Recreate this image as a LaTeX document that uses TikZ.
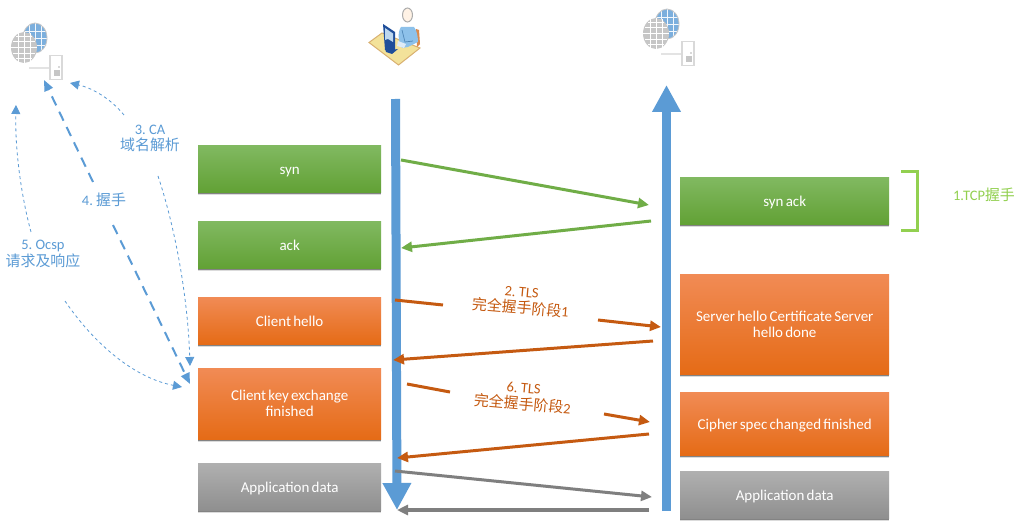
\documentclass[tikz,border=0pt]{standalone}
\usepackage{fontspec}
\setmainfont{Carlito}[WordSpace=0.65]
\newfontfamily\cjkf{Noto Sans CJK SC}[Scale=1.03]
\usetikzlibrary{arrows.meta,shadows}
\definecolor{lifeblue}{HTML}{5B9BD5}
\definecolor{dashblue}{HTML}{5B9BD5}
\definecolor{txtblue}{HTML}{5B9BD5}
\definecolor{arrgreen}{HTML}{70AD47}
\definecolor{brgreen}{HTML}{92D050}
\definecolor{arrorange}{HTML}{C55A11}
\definecolor{arrgray}{HTML}{7F7F7F}
\definecolor{green1}{HTML}{81B961}
\definecolor{green2}{HTML}{70B23F}
\definecolor{green3}{HTML}{62A135}
\definecolor{orange1}{HTML}{F18B55}
\definecolor{orange2}{HTML}{F57B28}
\definecolor{orange3}{HTML}{E56B16}
\definecolor{gray1}{HTML}{B0B0B0}
\definecolor{gray2}{HTML}{A3A3A3}
\definecolor{gray3}{HTML}{8F8F8F}
\definecolor{deskc}{HTML}{F3E29A}
\definecolor{deske}{HTML}{D9B070}
\definecolor{bodyc}{HTML}{8DC1EA}
\definecolor{monc}{HTML}{1F4E9A}
\definecolor{chairc}{HTML}{D98A4E}
\tikzset{
  x=1pt,y=-1pt,
  boxbase/.style={inner sep=4pt,align=center,text=white,
    font=\fontsize{15}{16}\selectfont,anchor=north west,
    general shadow={shadow xshift=0pt,shadow yshift=-3.2pt,opacity=.14,fill=black},
    general shadow={shadow xshift=0pt,shadow yshift=-2pt,opacity=.4,fill=black}},
  oneline/.style={text height=13pt,text depth=2pt},
  greenbox/.style={boxbase,top color=green1,middle color=green2,bottom color=green3},
  orangebox/.style={boxbase,top color=orange1,middle color=orange2,bottom color=orange3},
  graybox/.style={boxbase,top color=gray1,middle color=gray2,bottom color=gray3},
  lifeline/.style={line width=9pt,draw=lifeblue,-{Triangle[width=27pt,length=27pt]}},
  msg/.style={line width=3pt,-{Triangle[width=10pt,length=11pt]}},
  msgplain/.style={line width=3pt},
  greenmsg/.style={msg,draw=arrgreen,fill=arrgreen},
  orangemsg/.style={msg,draw=arrorange,fill=arrorange},
  orangeplain/.style={msgplain,draw=arrorange},
  graymsg/.style={msg,draw=arrgray,fill=arrgray},
  bigdash/.style={draw=dashblue,line width=2pt,dash pattern=on 10pt off 7pt},
  bigdashtip/.style={bigdash,-{Triangle[width=9pt,length=11pt]}},
  thindash/.style={draw=dashblue,line width=.8pt,dash pattern=on 3pt off 3pt},
  thindashtip/.style={thindash,-{Triangle[width=9pt,length=9pt]}},
  bluelabel/.style={text=txtblue,align=center,inner sep=0pt,font=\fontsize{14.5}{16.5}\selectfont},
  orangelabel/.style={text=arrorange,align=center,inner sep=0pt,rotate=-5,font=\fontsize{14.5}{16.5}\selectfont},
  serverpic/.pic={
    \fill[lifeblue!80] (35,38) ellipse (12 and 15);
    \draw[white!92!lifeblue,line width=.8pt] (35,23) -- (35,53) (23,31) -- (47,31) (23,38) -- (47,38) (23,45) -- (47,45) (29,24) -- (29,52) (41,24) -- (41,52);
    \draw[gray!45,line width=.8pt] (35,38) ellipse (12 and 15);
    \fill[gray!45] (24,47.5) ellipse (13 and 15.5);
    \draw[white,line width=.9pt] (24,32) -- (24,63) (18,33) -- (18,62) (30,33) -- (30,62) (13,41) -- (35,41) (11,47) -- (37,47) (13,53) -- (35,53) (16,36) -- (32,36) (16,58) -- (32,58);
    \draw[gray!22,line width=1.2pt] (29,68) -- (50,68);
    \draw[gray!30,line width=1.2pt,fill=white] (50,55.5) rectangle (62,79.5);
    \fill[gray!45] (54,70) rectangle (60,76);
    \fill[gray!60] (59,67) circle (.8);
  }
}
\newcommand{\cj}[1]{{\cjkf #1}}
\begin{document}
\begin{tikzpicture}
\useasboundingbox (0,0) rectangle (1027,529);
\fill[white] (0,0) rectangle (1027,529);

% icons
\pic at (0,0) {serverpic};
\pic at (632,-14) {serverpic};

% person icon
\fill[deskc,draw=deske,line width=1pt] (369,42.5) -- (382,33) -- (420,48) -- (398.5,65) -- cycle;
\fill[chairc] (416,29) -- (419,30) -- (420,44) -- (417,47) -- cycle;
\fill[bodyc] (401,27) -- (414,27) .. controls (417,30) and (418,38) .. (418,42)
  -- (408,47) -- (402,48) -- (399,40) .. controls (398,34) and (399,30) .. (401,27) -- cycle;
\draw[lifeblue!85!black,line width=.7pt] (402,30) -- (405,42) -- (413,41);
\fill[white!90!orange,draw=gray!65,line width=1pt] (407.5,15) ellipse (5 and 7);
\fill[monc] (383,24) -- (395,32) -- (395,50) -- (391,53) -- (385,50) -- cycle;
\fill[lifeblue!40!white] (385,28) -- (393,33.5) -- (393,42) -- (388,39) -- (385,40) -- cycle;
\fill[monc] (385,47) -- (392,50) -- (398,49) -- (392,54) -- (386,52) -- cycle;
\fill[white!80!lifeblue] (398,41) -- (406,44) -- (404,48) -- (397,46) -- cycle;

% boxes
\node[greenbox,oneline,minimum width=183pt,minimum height=47pt] (syn) at (198,145) {syn};
\node[greenbox,oneline,minimum width=183pt,minimum height=47pt] (ack) at (198,221) {ack};
\node[orangebox,oneline,minimum width=183pt,minimum height=47pt] (chello) at (198,297) {Client hello};
\node[orangebox,minimum width=183pt,minimum height=71pt] (ckey) at (198,368) {Client key exchange\\finished};
\node[graybox,oneline,minimum width=183pt,minimum height=47pt] (appl) at (198,463) {Application data};
\node[greenbox,oneline,minimum width=209pt,minimum height=47pt] (synack) at (680,177) {syn ack};
\node[orangebox,minimum width=209pt,minimum height=100pt] (shello) at (680,274) {Server hello Certificate Server\\hello done};
\node[orangebox,oneline,minimum width=209pt,minimum height=63pt] (cipher) at (680,392) {Cipher spec changed finished};
\node[graybox,oneline,minimum width=209pt,minimum height=47pt] (appr) at (680,471) {Application data};

% lifelines
\coordinate (ltop) at (395.5,99);
\coordinate (lbot) at (397,510);
\coordinate (rbot) at (666.5,511);
\coordinate (rtop) at (666.5,85);
\draw[lifeline] (ltop) -- (lbot);
\draw[lifeline] (rbot) -- (rtop);

% TCP messages
\coordinate (a1) at (401,160); \coordinate (a2) at (649,205);
\coordinate (b1) at (651,221); \coordinate (b2) at (401,248);
\draw[greenmsg] (a1) -- (a2);
\draw[greenmsg] (b1) -- (b2);

% bracket
\coordinate (br1) at (901,172); \coordinate (br2) at (917,172);
\coordinate (br3) at (917,231); \coordinate (br4) at (901,231);
\draw[draw=brgreen,line width=3pt] (br1) -- (br2) -- (br3) -- (br4);
\node[text=brgreen,inner sep=0pt,font=\fontsize{14.5}{16}\selectfont] (tcp) at (984,195) {1.TCP\cj{握手}};

% TLS 1
\node[orangelabel] (tls1) at (521,301) {2. TLS\\\cj{完全握手阶段}1};
\coordinate (c1) at (395,300); \coordinate (c2) at (443,305);
\coordinate (c3) at (598,320); \coordinate (c4) at (661,327);
\coordinate (d1) at (653,341); \coordinate (d2) at (393,360);
\draw[orangeplain] (c1) -- (c2);
\draw[orangemsg] (c3) -- (c4);
\draw[orangemsg] (d1) -- (d2);

% TLS 2
\node[orangelabel] (tls2) at (523,397) {6. TLS\\\cj{完全握手阶段}2};
\coordinate (e1) at (407,384); \coordinate (e2) at (450,392);
\coordinate (e3) at (604,414); \coordinate (e4) at (650,422);
\coordinate (f1) at (649,434); \coordinate (f2) at (397,458);
\draw[orangeplain] (e1) -- (e2);
\draw[orangemsg] (e3) -- (e4);
\draw[orangemsg] (f1) -- (f2);

% application data
\coordinate (g1) at (395,471); \coordinate (g2) at (652,497);
\coordinate (h1) at (649,510); \coordinate (h2) at (397,510);
\draw[graymsg] (g1) -- (g2);
\draw[graymsg,line width=4pt] (h1) -- (h2);

% blue labels
\node[bluelabel] (l3) at (150,138.5) {3. CA\\\cj{域名解析}};
\node[bluelabel] (l4) at (104,200) {4. \cj{握手}};
\node[bluelabel] (l5) at (43,254) {5. Ocsp\\\cj{请求及响应}};

% dashed connectors
\coordinate (p1) at (93,182); \coordinate (p2) at (44,80);
\coordinate (p3) at (113,225); \coordinate (p4) at (190,384);
\draw[bigdashtip] (p1) -- (p2);
\draw[bigdashtip] (p3) -- (p4);
\coordinate (q1) at (124,115); \coordinate (q2) at (70,83);
\coordinate (q3) at (158,176); \coordinate (q4) at (190,366);
\draw[thindashtip] (q1) .. controls (110,98) and (92,88) .. (q2);
\draw[thindashtip] (q3) .. controls (176,230) and (188,300) .. (q4);
\coordinate (r1) at (31,232); \coordinate (r2) at (16,105);
\coordinate (r3) at (65,301); \coordinate (r4) at (182,387);
\draw[thindashtip] (r1) .. controls (21,195) and (15,150) .. (r2);
\draw[thindashtip] (r3) .. controls (95,345) and (135,378) .. (r4);
\end{tikzpicture}
\end{document}
